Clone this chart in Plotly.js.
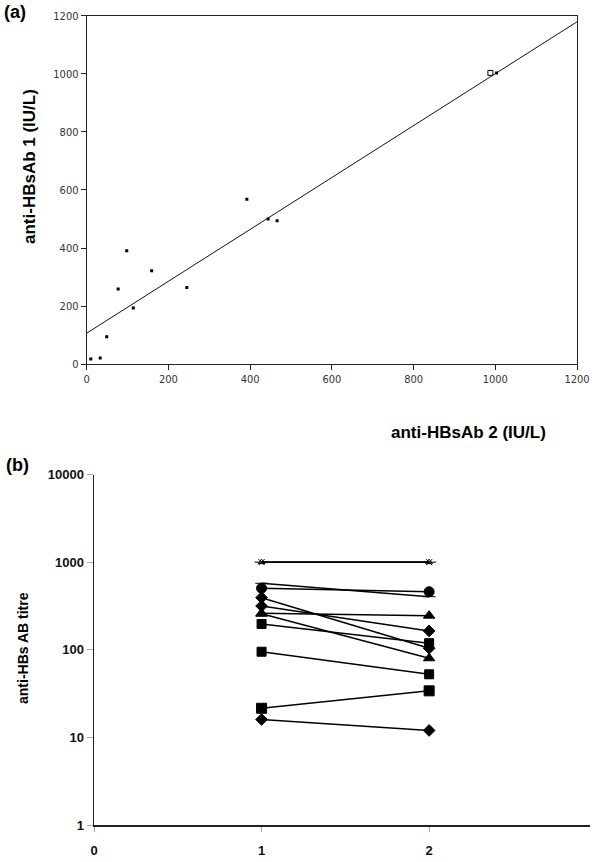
<!DOCTYPE html>
<html><head><meta charset="utf-8">
<script src="https://cdn.plot.ly/plotly-3.0.1.min.js"></script>
<style>html,body{margin:0;padding:0;background:#fff}#c{width:600px;height:862px}</style>
</head><body><div id="c"></div>
<script>
// Panel (a): scatter of anti-HBsAb 2 (x) vs anti-HBsAb 1 (y)
const ab2 = [10, 33, 49, 77, 98, 114, 159, 245, 392, 444, 466, 1003];
const ab1 = [18, 22, 95, 259, 391, 194, 322, 264, 568, 500, 494, 1003];
const capX = [988];
const capY = [1003];
// fitted regression line end points
const fitX = [0, 1200];
const fitY = [107, 1179];
const ticksA = [0, 200, 400, 600, 800, 1000, 1200];

// Panel (b): titre at time 1 and time 2 per subject
const times = [1, 2];
const sCap = [1000, 1000];
const sDash = [574, 404];
const sCircle = [504, 460];
const sDiamondA = [393, 104];
const sDiamondB = [316, 164];
const sTriA = [261, 245];
const sTriB = [258, 80];
const sSqA = [197, 119];
const sSqB = [95, 52.5];
const sSqC = [21.5, 34];
const sDiamondC = [16, 12];
const ticksB = [1, 10, 100, 1000, 10000];
const tickTextB = ['1', '10', '100', '1000', '10000'];
const ticksBx = [0, 1, 2];

const F = 'Liberation Sans, Arial, sans-serif';
const traces = [];
traces.push({x: fitX, y: fitY, mode: 'lines', line: {color: '#111', width: 1}, xaxis: 'x', yaxis: 'y', hoverinfo: 'skip'});
traces.push({x: ab2, y: ab1, mode: 'markers', marker: {symbol: 'square', size: 3, color: '#000'}, xaxis: 'x', yaxis: 'y'});
traces.push({x: capX, y: capY, mode: 'markers', marker: {symbol: 'square-open', size: 5, color: '#000', line: {width: 1}}, xaxis: 'x', yaxis: 'y'});

function ser(y, sym, size) {
  traces.push({x: times, y: y, mode: 'lines+markers', line: {color: '#000', width: 1.5},
    marker: {symbol: sym, size: size, color: '#000', line: {color: '#000', width: 1}}, xaxis: 'x2', yaxis: 'y2'});
}
ser(sCap, 'line-ew-open', 10);
ser(sCap, 'triangle-up-open', 6);
ser(sCap, 'x-thin-open', 6);
ser(sDash, 'line-ew-open', 9);
ser(sCircle, 'circle', 10);
ser(sDiamondA, 'diamond', 9);
ser(sDiamondB, 'diamond', 9);
ser(sTriA, 'triangle-up', 10);
ser(sTriB, 'triangle-up', 10);
ser(sSqA, 'square', 9);
ser(sSqB, 'square', 9);
ser(sSqC, 'square', 10);
ser(sDiamondC, 'diamond', 9);

const layout = {
  width: 600, height: 862, showlegend: false,
  margin: {l: 0, r: 0, t: 0, b: 0},
  paper_bgcolor: '#fff', plot_bgcolor: '#fff',
  xaxis: {domain: [0.1445, 0.9617], range: [0, 1200], tickvals: ticksA, showgrid: false, zeroline: false,
    showline: true, mirror: true, linecolor: '#222', linewidth: 1, ticks: 'outside', ticklen: 5, tickcolor: '#222',
    tickfont: {family: 'DejaVu Sans Condensed, DejaVu Sans, sans-serif', size: 11, color: '#333'}, anchor: 'y'},
  yaxis: {domain: [0.5774, 0.9818], range: [0, 1200], tickvals: ticksA, showgrid: false, zeroline: false,
    showline: true, mirror: true, linecolor: '#222', linewidth: 1, ticks: 'outside', ticklen: 5, tickcolor: '#222',
    tickfont: {family: 'DejaVu Sans Condensed, DejaVu Sans, sans-serif', size: 11, color: '#333'}, anchor: 'x'},
  xaxis2: {domain: [0.1567, 0.9833], range: [0, 2.96], tickvals: ticksBx, showgrid: false, zeroline: false,
    showline: true, linecolor: '#222', linewidth: 1.5, ticks: 'outside', ticklen: 5, tickcolor: '#aaa',
    ticklabelstandoff: 8,
    tickfont: {family: F, size: 13, color: '#111', weight: 'bold'}, anchor: 'y2'},
  yaxis2: {domain: [0.0429, 0.4495], type: 'log', range: [0, 4], tickvals: ticksB, ticktext: tickTextB,
    showgrid: false, zeroline: false, showline: true, linecolor: '#222', linewidth: 1.5, ticks: 'outside',
    ticklen: 6, tickcolor: '#aaa', tickfont: {family: F, size: 13, color: '#111', weight: 'bold'}, anchor: 'x2'},
  annotations: [
    {text: '(a)', x: 2, y: 12, xanchor: 'left', yanchor: 'middle',
     font: {family: F, size: 18, color: '#000', weight: 'bold'}},
    {text: '(b)', x: 4, y: 465, xanchor: 'left', yanchor: 'middle',
     font: {family: F, size: 18, color: '#000', weight: 'bold'}},
    {text: 'anti-HBsAb 1 (IU/L)', x: 30, y: 167, textangle: -90, xanchor: 'center', yanchor: 'middle',
     font: {family: F, size: 17, color: '#000', weight: 'bold'}},
    {text: 'anti-HBsAb 2 (IU/L)', x: 468, y: 433, xanchor: 'center', yanchor: 'middle',
     font: {family: F, size: 17, color: '#000', weight: 'bold'}},
    {text: 'anti-HBs AB titre', x: 23, y: 648, textangle: -90, xanchor: 'center', yanchor: 'middle',
     font: {family: F, size: 14, color: '#000', weight: 'bold'}}
  ]
};
// convert pixel-positioned annotations to paper coords
layout.annotations.forEach(a => { a.x = a.x / 600; a.y = 1 - a.y / 862; a.xref = 'paper'; a.yref = 'paper'; a.showarrow = false; });
Plotly.newPlot('c', traces, layout, {staticPlot: true});
</script></body></html>
